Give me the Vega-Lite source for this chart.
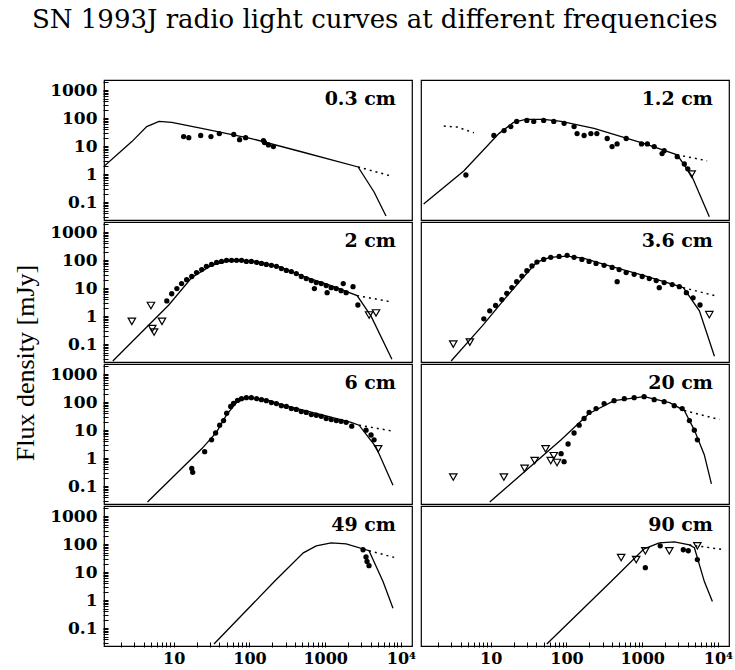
{
  "$schema": "https://vega.github.io/schema/vega-lite/v6.json",
  "background": "white",
  "padding": {"left": 12, "top": 6, "right": 2, "bottom": 0},
  "title": {"text": "SN 1993J radio light curves at different frequencies", "anchor": "start", "font": "DejaVu Serif", "fontSize": 26, "fontWeight": "normal", "color": "black", "offset": 40, "dx": 19},
  "datasets": {
    "panels": [
      {"panel": "0.3 cm", "r": 1, "c": 1}, {"panel": "1.2 cm", "r": 1, "c": 2},
      {"panel": "2 cm", "r": 2, "c": 1}, {"panel": "3.6 cm", "r": 2, "c": 2},
      {"panel": "6 cm", "r": 3, "c": 1}, {"panel": "20 cm", "r": 3, "c": 2},
      {"panel": "49 cm", "r": 4, "c": 1}, {"panel": "90 cm", "r": 4, "c": 2}
    ],
    "obs": [
      {"panel": "0.3 cm", "kind": "label"}, {"panel": "1.2 cm", "kind": "label"}, {"panel": "2 cm", "kind": "label"}, {"panel": "3.6 cm", "kind": "label"},
      {"panel": "6 cm", "kind": "label"}, {"panel": "20 cm", "kind": "label"}, {"panel": "49 cm", "kind": "label"}, {"panel": "90 cm", "kind": "label"},

      {"panel": "0.3 cm", "kind": "model", "t": 1.2, "f": 1.9}, {"panel": "0.3 cm", "kind": "model", "t": 2.8, "f": 14.5},
      {"panel": "0.3 cm", "kind": "model", "t": 4.4, "f": 50}, {"panel": "0.3 cm", "kind": "model", "t": 6.4, "f": 76},
      {"panel": "0.3 cm", "kind": "model", "t": 9.4, "f": 70}, {"panel": "0.3 cm", "kind": "model", "t": 23.4, "f": 43},
      {"panel": "0.3 cm", "kind": "model", "t": 106, "f": 18.6}, {"panel": "0.3 cm", "kind": "model", "t": 483, "f": 6.3},
      {"panel": "0.3 cm", "kind": "model", "t": 2720, "f": 1.8}, {"panel": "0.3 cm", "kind": "model", "t": 4420, "f": 0.23},
      {"panel": "0.3 cm", "kind": "model", "t": 6350, "f": 0.032},
      {"panel": "0.3 cm", "kind": "ext", "seg": "a", "t": 2720, "f": 1.8}, {"panel": "0.3 cm", "kind": "ext", "seg": "a", "t": 7390, "f": 0.86},
      {"panel": "0.3 cm", "kind": "pt", "t": 13.5, "f": 22}, {"panel": "0.3 cm", "kind": "pt", "t": 15.8, "f": 20},
      {"panel": "0.3 cm", "kind": "pt", "t": 22.7, "f": 24}, {"panel": "0.3 cm", "kind": "pt", "t": 31, "f": 22},
      {"panel": "0.3 cm", "kind": "pt", "t": 40, "f": 28}, {"panel": "0.3 cm", "kind": "pt", "t": 62, "f": 26},
      {"panel": "0.3 cm", "kind": "pt", "t": 74, "f": 17}, {"panel": "0.3 cm", "kind": "pt", "t": 89, "f": 20},
      {"panel": "0.3 cm", "kind": "pt", "t": 153, "f": 15.8}, {"panel": "0.3 cm", "kind": "pt", "t": 158, "f": 13.5},
      {"panel": "0.3 cm", "kind": "pt", "t": 178, "f": 11}, {"panel": "0.3 cm", "kind": "pt", "t": 207, "f": 9.6},

      {"panel": "1.2 cm", "kind": "model", "t": 1.3, "f": 0.085}, {"panel": "1.2 cm", "kind": "model", "t": 4.4, "f": 1.3},
      {"panel": "1.2 cm", "kind": "model", "t": 12.8, "f": 28}, {"panel": "1.2 cm", "kind": "model", "t": 20, "f": 70},
      {"panel": "1.2 cm", "kind": "model", "t": 29, "f": 90}, {"panel": "1.2 cm", "kind": "model", "t": 50, "f": 90},
      {"panel": "1.2 cm", "kind": "model", "t": 85, "f": 76}, {"panel": "1.2 cm", "kind": "model", "t": 231, "f": 43},
      {"panel": "1.2 cm", "kind": "model", "t": 1070, "f": 12.3}, {"panel": "1.2 cm", "kind": "model", "t": 2900, "f": 4.9},
      {"panel": "1.2 cm", "kind": "model", "t": 4500, "f": 0.87}, {"panel": "1.2 cm", "kind": "model", "t": 7700, "f": 0.03},
      {"panel": "1.2 cm", "kind": "ext", "seg": "a", "t": 2900, "f": 4.9}, {"panel": "1.2 cm", "kind": "ext", "seg": "a", "t": 7200, "f": 3.0},
      {"panel": "1.2 cm", "kind": "ext", "seg": "b", "t": 2.4, "f": 52}, {"panel": "1.2 cm", "kind": "ext", "seg": "b", "t": 3.6, "f": 48},
      {"panel": "1.2 cm", "kind": "ext", "seg": "b", "t": 6.0, "f": 30},
      {"panel": "1.2 cm", "kind": "pt", "t": 4.7, "f": 0.93}, {"panel": "1.2 cm", "kind": "pt", "t": 11, "f": 24},
      {"panel": "1.2 cm", "kind": "pt", "t": 15, "f": 36}, {"panel": "1.2 cm", "kind": "pt", "t": 18.4, "f": 50},
      {"panel": "1.2 cm", "kind": "pt", "t": 22, "f": 76}, {"panel": "1.2 cm", "kind": "pt", "t": 30, "f": 83},
      {"panel": "1.2 cm", "kind": "pt", "t": 37, "f": 76}, {"panel": "1.2 cm", "kind": "pt", "t": 50, "f": 83},
      {"panel": "1.2 cm", "kind": "pt", "t": 68, "f": 76}, {"panel": "1.2 cm", "kind": "pt", "t": 93, "f": 65},
      {"panel": "1.2 cm", "kind": "pt", "t": 126, "f": 50}, {"panel": "1.2 cm", "kind": "pt", "t": 138, "f": 28},
      {"panel": "1.2 cm", "kind": "pt", "t": 171, "f": 24}, {"panel": "1.2 cm", "kind": "pt", "t": 210, "f": 28},
      {"panel": "1.2 cm", "kind": "pt", "t": 252, "f": 28}, {"panel": "1.2 cm", "kind": "pt", "t": 345, "f": 18.7},
      {"panel": "1.2 cm", "kind": "pt", "t": 400, "f": 9.6}, {"panel": "1.2 cm", "kind": "pt", "t": 466, "f": 12},
      {"panel": "1.2 cm", "kind": "pt", "t": 615, "f": 18.7}, {"panel": "1.2 cm", "kind": "pt", "t": 980, "f": 12},
      {"panel": "1.2 cm", "kind": "pt", "t": 1170, "f": 12}, {"panel": "1.2 cm", "kind": "pt", "t": 1440, "f": 9.6},
      {"panel": "1.2 cm", "kind": "pt", "t": 1830, "f": 5.4}, {"panel": "1.2 cm", "kind": "pt", "t": 1950, "f": 6.9},
      {"panel": "1.2 cm", "kind": "pt", "t": 2900, "f": 4.2}, {"panel": "1.2 cm", "kind": "pt", "t": 3600, "f": 2.3},
      {"panel": "1.2 cm", "kind": "pt", "t": 4000, "f": 1.55},
      {"panel": "1.2 cm", "kind": "lim", "t": 4500, "f": 1.0},

      {"panel": "2 cm", "kind": "model", "t": 1.57, "f": 0.025}, {"panel": "2 cm", "kind": "model", "t": 8.6, "f": 2.5},
      {"panel": "2 cm", "kind": "model", "t": 17.3, "f": 24}, {"panel": "2 cm", "kind": "model", "t": 31.6, "f": 65},
      {"panel": "2 cm", "kind": "model", "t": 50, "f": 90}, {"panel": "2 cm", "kind": "model", "t": 91, "f": 98},
      {"panel": "2 cm", "kind": "model", "t": 144, "f": 83}, {"panel": "2 cm", "kind": "model", "t": 264, "f": 55},
      {"panel": "2 cm", "kind": "model", "t": 483, "f": 28}, {"panel": "2 cm", "kind": "model", "t": 1200, "f": 12.3},
      {"panel": "2 cm", "kind": "model", "t": 2640, "f": 5.4}, {"panel": "2 cm", "kind": "model", "t": 4030, "f": 1.0},
      {"panel": "2 cm", "kind": "model", "t": 7600, "f": 0.029},
      {"panel": "2 cm", "kind": "ext", "seg": "a", "t": 2640, "f": 5.4}, {"panel": "2 cm", "kind": "ext", "seg": "a", "t": 7600, "f": 3.2},
      {"panel": "2 cm", "kind": "pt", "t": 8.1, "f": 3.5}, {"panel": "2 cm", "kind": "pt", "t": 9.4, "f": 6.3},
      {"panel": "2 cm", "kind": "pt", "t": 11, "f": 9.6}, {"panel": "2 cm", "kind": "pt", "t": 12.7, "f": 14.5},
      {"panel": "2 cm", "kind": "pt", "t": 14.8, "f": 20}, {"panel": "2 cm", "kind": "pt", "t": 17.3, "f": 26},
      {"panel": "2 cm", "kind": "pt", "t": 20, "f": 36}, {"panel": "2 cm", "kind": "pt", "t": 23.4, "f": 46},
      {"panel": "2 cm", "kind": "pt", "t": 27, "f": 60}, {"panel": "2 cm", "kind": "pt", "t": 31.6, "f": 70},
      {"panel": "2 cm", "kind": "pt", "t": 36.8, "f": 83}, {"panel": "2 cm", "kind": "pt", "t": 42.8, "f": 90},
      {"panel": "2 cm", "kind": "pt", "t": 49.8, "f": 98}, {"panel": "2 cm", "kind": "pt", "t": 58, "f": 98},
      {"panel": "2 cm", "kind": "pt", "t": 67.5, "f": 98}, {"panel": "2 cm", "kind": "pt", "t": 78.5, "f": 98},
      {"panel": "2 cm", "kind": "pt", "t": 91, "f": 90}, {"panel": "2 cm", "kind": "pt", "t": 106, "f": 90},
      {"panel": "2 cm", "kind": "pt", "t": 124, "f": 83}, {"panel": "2 cm", "kind": "pt", "t": 144, "f": 76},
      {"panel": "2 cm", "kind": "pt", "t": 167, "f": 70}, {"panel": "2 cm", "kind": "pt", "t": 195, "f": 65},
      {"panel": "2 cm", "kind": "pt", "t": 227, "f": 60}, {"panel": "2 cm", "kind": "pt", "t": 264, "f": 50},
      {"panel": "2 cm", "kind": "pt", "t": 307, "f": 43}, {"panel": "2 cm", "kind": "pt", "t": 357, "f": 39},
      {"panel": "2 cm", "kind": "pt", "t": 415, "f": 33}, {"panel": "2 cm", "kind": "pt", "t": 483, "f": 26},
      {"panel": "2 cm", "kind": "pt", "t": 562, "f": 22}, {"panel": "2 cm", "kind": "pt", "t": 655, "f": 18.6},
      {"panel": "2 cm", "kind": "pt", "t": 762, "f": 15.8}, {"panel": "2 cm", "kind": "pt", "t": 886, "f": 14.5},
      {"panel": "2 cm", "kind": "pt", "t": 1030, "f": 12.3}, {"panel": "2 cm", "kind": "pt", "t": 1200, "f": 10.4},
      {"panel": "2 cm", "kind": "pt", "t": 1400, "f": 9.6}, {"panel": "2 cm", "kind": "pt", "t": 1620, "f": 8.1},
      {"panel": "2 cm", "kind": "pt", "t": 1890, "f": 6.9}, {"panel": "2 cm", "kind": "pt", "t": 720, "f": 9.6},
      {"panel": "2 cm", "kind": "pt", "t": 1060, "f": 6.9}, {"panel": "2 cm", "kind": "pt", "t": 1730, "f": 14.5},
      {"panel": "2 cm", "kind": "pt", "t": 2330, "f": 11.3}, {"panel": "2 cm", "kind": "pt", "t": 2700, "f": 2.5},
      {"panel": "2 cm", "kind": "lim", "t": 2.8, "f": 0.65}, {"panel": "2 cm", "kind": "lim", "t": 5.0, "f": 2.4},
      {"panel": "2 cm", "kind": "lim", "t": 5.2, "f": 0.36}, {"panel": "2 cm", "kind": "lim", "t": 5.5, "f": 0.27},
      {"panel": "2 cm", "kind": "lim", "t": 7.0, "f": 0.65}, {"panel": "2 cm", "kind": "lim", "t": 3800, "f": 1.1},
      {"panel": "2 cm", "kind": "lim", "t": 4690, "f": 1.3},

      {"panel": "3.6 cm", "kind": "model", "t": 3.0, "f": 0.025}, {"panel": "3.6 cm", "kind": "model", "t": 8.1, "f": 0.52},
      {"panel": "3.6 cm", "kind": "model", "t": 14.9, "f": 3.8}, {"panel": "3.6 cm", "kind": "model", "t": 27.4, "f": 26},
      {"panel": "3.6 cm", "kind": "model", "t": 40.7, "f": 85}, {"panel": "3.6 cm", "kind": "model", "t": 60, "f": 126},
      {"panel": "3.6 cm", "kind": "model", "t": 102, "f": 140}, {"panel": "3.6 cm", "kind": "model", "t": 171, "f": 116},
      {"panel": "3.6 cm", "kind": "model", "t": 314, "f": 70}, {"panel": "3.6 cm", "kind": "model", "t": 1060, "f": 28},
      {"panel": "3.6 cm", "kind": "model", "t": 3490, "f": 10.4}, {"panel": "3.6 cm", "kind": "model", "t": 5690, "f": 1.55},
      {"panel": "3.6 cm", "kind": "model", "t": 8990, "f": 0.037},
      {"panel": "3.6 cm", "kind": "ext", "seg": "a", "t": 3490, "f": 10.4}, {"panel": "3.6 cm", "kind": "ext", "seg": "a", "t": 8990, "f": 5.4},
      {"panel": "3.6 cm", "kind": "pt", "t": 8.1, "f": 0.8}, {"panel": "3.6 cm", "kind": "pt", "t": 9.7, "f": 1.55},
      {"panel": "3.6 cm", "kind": "pt", "t": 11.6, "f": 2.4}, {"panel": "3.6 cm", "kind": "pt", "t": 14, "f": 3.9},
      {"panel": "3.6 cm", "kind": "pt", "t": 16.3, "f": 6.5}, {"panel": "3.6 cm", "kind": "pt", "t": 19, "f": 10.5},
      {"panel": "3.6 cm", "kind": "pt", "t": 22, "f": 17}, {"panel": "3.6 cm", "kind": "pt", "t": 25.8, "f": 27},
      {"panel": "3.6 cm", "kind": "pt", "t": 30, "f": 42}, {"panel": "3.6 cm", "kind": "pt", "t": 35, "f": 62},
      {"panel": "3.6 cm", "kind": "pt", "t": 40.7, "f": 85}, {"panel": "3.6 cm", "kind": "pt", "t": 50, "f": 106},
      {"panel": "3.6 cm", "kind": "pt", "t": 62, "f": 126}, {"panel": "3.6 cm", "kind": "pt", "t": 80, "f": 136},
      {"panel": "3.6 cm", "kind": "pt", "t": 102, "f": 148}, {"panel": "3.6 cm", "kind": "pt", "t": 126, "f": 126},
      {"panel": "3.6 cm", "kind": "pt", "t": 160, "f": 106}, {"panel": "3.6 cm", "kind": "pt", "t": 199, "f": 90},
      {"panel": "3.6 cm", "kind": "pt", "t": 246, "f": 76}, {"panel": "3.6 cm", "kind": "pt", "t": 314, "f": 65},
      {"panel": "3.6 cm", "kind": "pt", "t": 401, "f": 55}, {"panel": "3.6 cm", "kind": "pt", "t": 496, "f": 46},
      {"panel": "3.6 cm", "kind": "pt", "t": 614, "f": 36}, {"panel": "3.6 cm", "kind": "pt", "t": 783, "f": 31},
      {"panel": "3.6 cm", "kind": "pt", "t": 1000, "f": 26}, {"panel": "3.6 cm", "kind": "pt", "t": 1240, "f": 22},
      {"panel": "3.6 cm", "kind": "pt", "t": 1530, "f": 18.6}, {"panel": "3.6 cm", "kind": "pt", "t": 1950, "f": 15.8},
      {"panel": "3.6 cm", "kind": "pt", "t": 2490, "f": 13.4}, {"panel": "3.6 cm", "kind": "pt", "t": 3090, "f": 11.3},
      {"panel": "3.6 cm", "kind": "pt", "t": 3830, "f": 6.9}, {"panel": "3.6 cm", "kind": "pt", "t": 4700, "f": 4.5},
      {"panel": "3.6 cm", "kind": "pt", "t": 5800, "f": 2.5}, {"panel": "3.6 cm", "kind": "pt", "t": 467, "f": 17},
      {"panel": "3.6 cm", "kind": "pt", "t": 1680, "f": 10.4},
      {"panel": "3.6 cm", "kind": "lim", "t": 3.2, "f": 0.1}, {"panel": "3.6 cm", "kind": "lim", "t": 5.3, "f": 0.118},
      {"panel": "3.6 cm", "kind": "lim", "t": 7700, "f": 1.13},

      {"panel": "6 cm", "kind": "model", "t": 4.5, "f": 0.027}, {"panel": "6 cm", "kind": "model", "t": 23.4, "f": 2.15},
      {"panel": "6 cm", "kind": "model", "t": 36.8, "f": 8.5}, {"panel": "6 cm", "kind": "model", "t": 50, "f": 36},
      {"panel": "6 cm", "kind": "model", "t": 67.5, "f": 96}, {"panel": "6 cm", "kind": "model", "t": 91, "f": 144},
      {"panel": "6 cm", "kind": "model", "t": 167, "f": 122}, {"panel": "6 cm", "kind": "model", "t": 264, "f": 82},
      {"panel": "6 cm", "kind": "model", "t": 886, "f": 36}, {"panel": "6 cm", "kind": "model", "t": 2200, "f": 19},
      {"panel": "6 cm", "kind": "model", "t": 2800, "f": 15}, {"panel": "6 cm", "kind": "model", "t": 4690, "f": 2.5},
      {"panel": "6 cm", "kind": "model", "t": 7850, "f": 0.108},
      {"panel": "6 cm", "kind": "ext", "seg": "a", "t": 2800, "f": 15}, {"panel": "6 cm", "kind": "ext", "seg": "a", "t": 7850, "f": 9.2},
      {"panel": "6 cm", "kind": "pt", "t": 17.3, "f": 0.43}, {"panel": "6 cm", "kind": "pt", "t": 17.8, "f": 0.31},
      {"panel": "6 cm", "kind": "pt", "t": 25.6, "f": 1.7}, {"panel": "6 cm", "kind": "pt", "t": 31.6, "f": 4.5},
      {"panel": "6 cm", "kind": "pt", "t": 35.7, "f": 7.9}, {"panel": "6 cm", "kind": "pt", "t": 40.4, "f": 15},
      {"panel": "6 cm", "kind": "pt", "t": 45.5, "f": 22}, {"panel": "6 cm", "kind": "pt", "t": 50, "f": 40},
      {"panel": "6 cm", "kind": "pt", "t": 56.5, "f": 70}, {"panel": "6 cm", "kind": "pt", "t": 61.6, "f": 90},
      {"panel": "6 cm", "kind": "pt", "t": 69.5, "f": 115}, {"panel": "6 cm", "kind": "pt", "t": 78.5, "f": 133},
      {"panel": "6 cm", "kind": "pt", "t": 91, "f": 144}, {"panel": "6 cm", "kind": "pt", "t": 106, "f": 144},
      {"panel": "6 cm", "kind": "pt", "t": 124, "f": 133}, {"panel": "6 cm", "kind": "pt", "t": 144, "f": 122},
      {"panel": "6 cm", "kind": "pt", "t": 167, "f": 113}, {"panel": "6 cm", "kind": "pt", "t": 195, "f": 96},
      {"panel": "6 cm", "kind": "pt", "t": 227, "f": 89}, {"panel": "6 cm", "kind": "pt", "t": 264, "f": 75},
      {"panel": "6 cm", "kind": "pt", "t": 307, "f": 70}, {"panel": "6 cm", "kind": "pt", "t": 357, "f": 59},
      {"panel": "6 cm", "kind": "pt", "t": 415, "f": 55}, {"panel": "6 cm", "kind": "pt", "t": 483, "f": 46},
      {"panel": "6 cm", "kind": "pt", "t": 562, "f": 43}, {"panel": "6 cm", "kind": "pt", "t": 655, "f": 36},
      {"panel": "6 cm", "kind": "pt", "t": 762, "f": 34}, {"panel": "6 cm", "kind": "pt", "t": 886, "f": 31},
      {"panel": "6 cm", "kind": "pt", "t": 1030, "f": 26}, {"panel": "6 cm", "kind": "pt", "t": 1200, "f": 24},
      {"panel": "6 cm", "kind": "pt", "t": 1400, "f": 22}, {"panel": "6 cm", "kind": "pt", "t": 1620, "f": 20.7},
      {"panel": "6 cm", "kind": "pt", "t": 1890, "f": 19}, {"panel": "6 cm", "kind": "pt", "t": 2240, "f": 13.8},
      {"panel": "6 cm", "kind": "pt", "t": 3460, "f": 10}, {"panel": "6 cm", "kind": "pt", "t": 4030, "f": 6.7},
      {"panel": "6 cm", "kind": "pt", "t": 4420, "f": 4.5},
      {"panel": "6 cm", "kind": "lim", "t": 5000, "f": 2.15},

      {"panel": "20 cm", "kind": "model", "t": 9.7, "f": 0.027}, {"panel": "20 cm", "kind": "model", "t": 85, "f": 4.5},
      {"panel": "20 cm", "kind": "model", "t": 199, "f": 39.5}, {"panel": "20 cm", "kind": "model", "t": 425, "f": 113},
      {"panel": "20 cm", "kind": "model", "t": 1060, "f": 156}, {"panel": "20 cm", "kind": "model", "t": 2300, "f": 96},
      {"panel": "20 cm", "kind": "model", "t": 3600, "f": 50}, {"panel": "20 cm", "kind": "model", "t": 4880, "f": 10},
      {"panel": "20 cm", "kind": "model", "t": 6600, "f": 1.33}, {"panel": "20 cm", "kind": "model", "t": 8200, "f": 0.12},
      {"panel": "20 cm", "kind": "ext", "seg": "a", "t": 3600, "f": 50}, {"panel": "20 cm", "kind": "ext", "seg": "a", "t": 10500, "f": 24},
      {"panel": "20 cm", "kind": "lim", "t": 3.2, "f": 0.21}, {"panel": "20 cm", "kind": "lim", "t": 14.9, "f": 0.21},
      {"panel": "20 cm", "kind": "lim", "t": 28, "f": 0.43}, {"panel": "20 cm", "kind": "lim", "t": 38, "f": 0.82},
      {"panel": "20 cm", "kind": "lim", "t": 53, "f": 2.15}, {"panel": "20 cm", "kind": "lim", "t": 68, "f": 1.22},
      {"panel": "20 cm", "kind": "lim", "t": 62, "f": 0.82}, {"panel": "20 cm", "kind": "lim", "t": 75, "f": 0.7},
      {"panel": "20 cm", "kind": "pt", "t": 85, "f": 1.44}, {"panel": "20 cm", "kind": "pt", "t": 93, "f": 0.75},
      {"panel": "20 cm", "kind": "pt", "t": 105, "f": 3.2}, {"panel": "20 cm", "kind": "pt", "t": 126, "f": 7.9},
      {"panel": "20 cm", "kind": "pt", "t": 147, "f": 15}, {"panel": "20 cm", "kind": "pt", "t": 171, "f": 26},
      {"panel": "20 cm", "kind": "pt", "t": 199, "f": 43}, {"panel": "20 cm", "kind": "pt", "t": 246, "f": 59},
      {"panel": "20 cm", "kind": "pt", "t": 314, "f": 89}, {"panel": "20 cm", "kind": "pt", "t": 425, "f": 113},
      {"panel": "20 cm", "kind": "pt", "t": 580, "f": 133}, {"panel": "20 cm", "kind": "pt", "t": 783, "f": 144},
      {"panel": "20 cm", "kind": "pt", "t": 1060, "f": 156}, {"panel": "20 cm", "kind": "pt", "t": 1440, "f": 122},
      {"panel": "20 cm", "kind": "pt", "t": 1950, "f": 104}, {"panel": "20 cm", "kind": "pt", "t": 2650, "f": 75},
      {"panel": "20 cm", "kind": "pt", "t": 3370, "f": 59}, {"panel": "20 cm", "kind": "pt", "t": 4200, "f": 22},
      {"panel": "20 cm", "kind": "pt", "t": 4880, "f": 10}, {"panel": "20 cm", "kind": "pt", "t": 5350, "f": 4.5},

      {"panel": "49 cm", "kind": "model", "t": 34, "f": 0.027}, {"panel": "49 cm", "kind": "model", "t": 213, "f": 4.6},
      {"panel": "49 cm", "kind": "model", "t": 514, "f": 49}, {"panel": "49 cm", "kind": "model", "t": 762, "f": 87},
      {"panel": "49 cm", "kind": "model", "t": 1200, "f": 111}, {"panel": "49 cm", "kind": "model", "t": 1890, "f": 102},
      {"panel": "49 cm", "kind": "model", "t": 3790, "f": 58}, {"panel": "49 cm", "kind": "model", "t": 5800, "f": 4.6},
      {"panel": "49 cm", "kind": "model", "t": 7850, "f": 0.51},
      {"panel": "49 cm", "kind": "ext", "seg": "a", "t": 3790, "f": 58}, {"panel": "49 cm", "kind": "ext", "seg": "a", "t": 8340, "f": 33},
      {"panel": "49 cm", "kind": "pt", "t": 3160, "f": 63}, {"panel": "49 cm", "kind": "pt", "t": 3460, "f": 35},
      {"panel": "49 cm", "kind": "pt", "t": 3570, "f": 24}, {"panel": "49 cm", "kind": "pt", "t": 3790, "f": 17},

      {"panel": "90 cm", "kind": "model", "t": 55, "f": 0.027}, {"panel": "90 cm", "kind": "model", "t": 388, "f": 4.6},
      {"panel": "90 cm", "kind": "model", "t": 1060, "f": 68}, {"panel": "90 cm", "kind": "model", "t": 1680, "f": 111},
      {"panel": "90 cm", "kind": "model", "t": 2660, "f": 120}, {"panel": "90 cm", "kind": "model", "t": 4200, "f": 94},
      {"panel": "90 cm", "kind": "model", "t": 4890, "f": 74}, {"panel": "90 cm", "kind": "model", "t": 6620, "f": 4.6},
      {"panel": "90 cm", "kind": "model", "t": 8450, "f": 0.9},
      {"panel": "90 cm", "kind": "ext", "seg": "a", "t": 4200, "f": 94}, {"panel": "90 cm", "kind": "ext", "seg": "a", "t": 12200, "f": 63},
      {"panel": "90 cm", "kind": "lim", "t": 527, "f": 33}, {"panel": "90 cm", "kind": "lim", "t": 833, "f": 28},
      {"panel": "90 cm", "kind": "lim", "t": 1100, "f": 58}, {"panel": "90 cm", "kind": "lim", "t": 2280, "f": 58},
      {"panel": "90 cm", "kind": "lim", "t": 5350, "f": 87},
      {"panel": "90 cm", "kind": "pt", "t": 1100, "f": 14.4}, {"panel": "90 cm", "kind": "pt", "t": 1730, "f": 87},
      {"panel": "90 cm", "kind": "pt", "t": 3490, "f": 63}, {"panel": "90 cm", "kind": "pt", "t": 4060, "f": 58},
      {"panel": "90 cm", "kind": "pt", "t": 5350, "f": 28}
    ]
  },
  "data": {"name": "obs"},
  "transform": [
    {"lookup": "panel", "from": {"data": {"name": "panels"}, "key": "panel", "fields": ["r", "c"]}}
  ],
  "facet": {
    "row": {"field": "r", "type": "ordinal", "header": {"labels": false, "title": "Flux density [mJy]", "titleFont": "Liberation Serif", "titleFontSize": 26, "titleFontWeight": "normal", "titleColor": "black", "titleOrient": "left", "labelOrient": "left", "titlePadding": 0}},
    "column": {"field": "c", "type": "ordinal", "header": {"labels": false, "title": null}}
  },
  "spacing": {"row": 0, "column": 7},
  "spec": {
    "width": 308,
    "height": 140,
    "layer": [
      {
        "transform": [{"filter": "datum.kind === 'model'"}],
        "mark": {"type": "line", "color": "black", "strokeWidth": 1.3, "clip": true},
        "encoding": {
          "x": {"field": "t", "type": "quantitative", "scale": {"type": "log", "domain": [1.2, 14000], "nice": false},
                "axis": {"values": [2, 3, 4, 5, 6, 7, 8, 9, 10, 20, 30, 40, 50, 60, 70, 80, 90, 100, 200, 300, 400, 500, 600, 700, 800, 900, 1000, 2000, 3000, 4000, 5000, 6000, 7000, 8000, 9000, 10000],
                         "title": null, "labelOverlap": false, "labelPadding": 8, "labelFontSize": 16,
                         "labelExpr": "indexof([10, 100, 1000], datum.value) >= 0 ? format(datum.value, 'd') : (datum.value == 10000 ? '10⁴' : '')"}},
          "y": {"field": "f", "type": "quantitative", "scale": {"type": "log", "domain": [0.023, 2300], "nice": false},
                "axis": {"values": [0.03, 0.04, 0.05, 0.06, 0.07, 0.08, 0.09, 0.1, 0.2, 0.3, 0.4, 0.5, 0.6, 0.7, 0.8, 0.9, 1, 2, 3, 4, 5, 6, 7, 8, 9, 10, 20, 30, 40, 50, 60, 70, 80, 90, 100, 200, 300, 400, 500, 600, 700, 800, 900, 1000, 2000],
                         "title": null, "labelOverlap": false, "labelPadding": 11,
                         "labelExpr": "indexof([0.1, 1, 10, 100, 1000], datum.value) >= 0 ? format(datum.value, '~g') : ''"}}
        }
      },
      {
        "transform": [{"filter": "datum.kind === 'ext'"}],
        "mark": {"type": "line", "color": "black", "strokeWidth": 1.5, "strokeDash": [2, 4], "clip": true},
        "encoding": {
          "x": {"field": "t", "type": "quantitative"},
          "y": {"field": "f", "type": "quantitative"},
          "detail": {"field": "seg"}
        }
      },
      {
        "transform": [{"filter": "datum.kind === 'pt'"}],
        "mark": {"type": "point", "shape": "circle", "filled": true, "color": "black", "size": 28, "opacity": 1},
        "encoding": {
          "x": {"field": "t", "type": "quantitative"},
          "y": {"field": "f", "type": "quantitative"}
        }
      },
      {
        "transform": [{"filter": "datum.kind === 'lim'"}],
        "mark": {"type": "point", "shape": "triangle-down", "filled": false, "color": "black", "size": 55, "strokeWidth": 1.2, "opacity": 1},
        "encoding": {
          "x": {"field": "t", "type": "quantitative"},
          "y": {"field": "f", "type": "quantitative"}
        }
      },
      {
        "transform": [{"filter": "datum.kind === 'label'"}],
        "mark": {"type": "text", "align": "right", "baseline": "middle", "font": "DejaVu Serif", "fontSize": 19, "fontWeight": "bold", "color": "black"},
        "encoding": {
          "x": {"datum": 8600},
          "y": {"datum": 480},
          "text": {"field": "panel"}
        }
      }
    ]
  },
  "config": {
    "view": {"stroke": "black", "strokeWidth": 1.2},
    "axis": {"labelFont": "DejaVu Serif", "labelFontSize": 17, "labelFontWeight": "bold", "labelColor": "black", "tickColor": "black", "domain": false, "grid": false, "tickSize": -5, "tickWidth": 1}
  }
}
